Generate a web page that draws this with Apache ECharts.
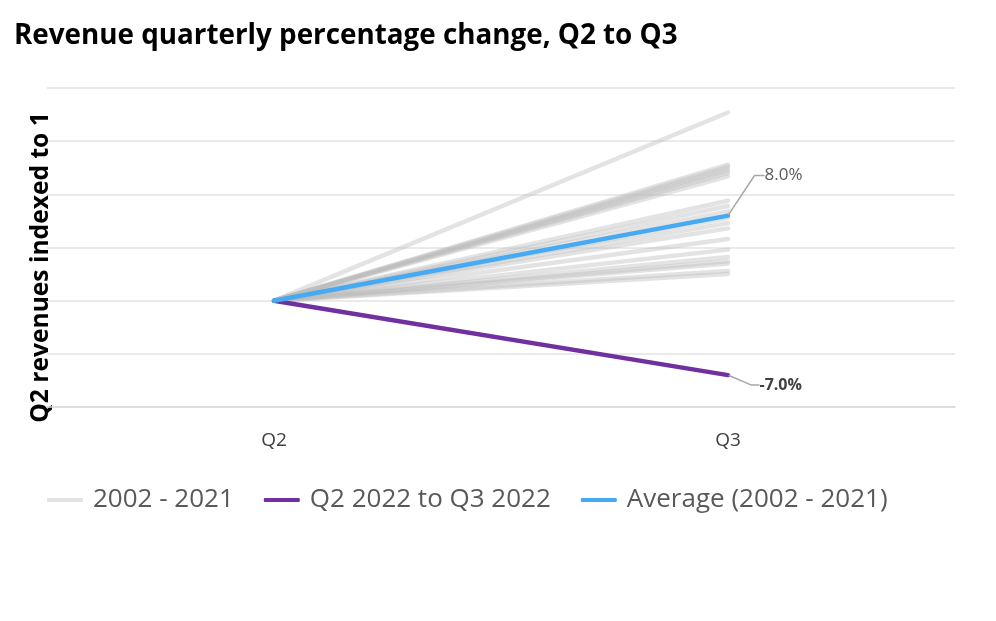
<!DOCTYPE html>
<html>
<head>
<meta charset="utf-8">
<script src="https://cdn.jsdelivr.net/npm/echarts@6/dist/echarts.min.js"></script>
<style>html,body{margin:0;padding:0;background:#fff}#c{width:996px;height:621px}</style>
</head>
<body>
<div id="c"></div>
<script>
const categories = ['Q2', 'Q3'];
// Q3 index values (Q2 = 1) for each year 2002 - 2021
const historicQ3 = [1.177, 1.128, 1.126, 1.124, 1.122, 1.120, 1.117, 1.094, 1.089, 1.084, 1.078,
                    1.073, 1.068, 1.058, 1.048, 1.041, 1.037, 1.035, 1.028, 1.025];
const q2Base = 1;
const averageQ3 = 1.08;
const currentQ3 = 0.93;
const yTicks = {min: 0.9, max: 1.2, interval: 0.05};

const pct = v => ((v - 1) * 100).toFixed(1) + '%';

const chart = echarts.init(document.getElementById('c'), null, {renderer: 'canvas'});
const series = [];
historicQ3.forEach(v => {
  series.push({
    name: '2002 - 2021', type: 'line', data: [q2Base, v], symbol: 'none',
    lineStyle: {color: '#bdbdbd', width: 4.5, opacity: 0.42, cap: 'round'},
    itemStyle: {color: '#e3e3e3'},
    emphasis: {disabled: true}, silent: true, z: 1
  });
});
series.push({
  name: 'Q2 2022 to Q3 2022', type: 'line', symbol: 'circle', symbolSize: 1, showSymbol: true, z: 3,
  data: [q2Base, {value: currentQ3, label: {show: true}}],
  lineStyle: {color: '#7030a0', width: 4.5, cap: 'round'},
  itemStyle: {color: '#7030a0'},
  label: {show: false, position: 'right', distance: 2, formatter: p => pct(p.value),
          fontFamily: 'Open Sans', fontSize: 16, fontWeight: 'bold', color: '#404040',
          padding: [0, 0, 0, 8]},
  labelLayout: {dx: 21, dy: 10},
  labelLine: {show: true, length2: 8, lineStyle: {color: '#a6a6a6', width: 1.5}},
  emphasis: {disabled: true}
});
series.push({
  name: 'Average (2002 - 2021)', type: 'line', symbol: 'circle', symbolSize: 1, showSymbol: true, z: 4,
  data: [q2Base, {value: averageQ3, label: {show: true}}],
  lineStyle: {color: '#45aaf2', width: 4.5, cap: 'round'},
  itemStyle: {color: '#45aaf2'},
  label: {show: false, position: 'right', distance: 2, formatter: p => pct(p.value),
          fontFamily: 'Open Sans', fontSize: 17, color: '#595959',
          padding: [0, 0, 0, 9]},
  labelLayout: {dx: 25, dy: -40},
  labelLine: {show: true, length2: 10, lineStyle: {color: '#a6a6a6', width: 1.5}},
  emphasis: {disabled: true}
});

chart.setOption({
  animation: false,
  backgroundColor: '#fff',
  title: {
    text: 'Revenue quarterly percentage change, Q2 to Q3',
    left: 9, top: 17,
    textStyle: {fontFamily: 'Open Sans', fontSize: 27.8, fontWeight: 'bold', color: '#000'}
  },
  legend: {
    bottom: 103, left: 42,
    itemWidth: 36, itemHeight: 4, itemGap: 30,
    icon: 'roundRect',
    textStyle: {fontFamily: 'Open Sans', fontSize: 26, color: '#595959', padding: [0, 0, 0, 5]},
    data: [
      {name: '2002 - 2021', itemStyle: {color: '#e3e3e3'}, lineStyle: {color: '#e3e3e3', opacity: 1}},
      {name: 'Q2 2022 to Q3 2022'},
      {name: 'Average (2002 - 2021)'}
    ]
  },
  grid: {left: 47, right: 41, top: 88, bottom: 214},
  xAxis: {
    type: 'category', data: categories,
    axisLine: {lineStyle: {color: '#d9d9d9', width: 1.5}},
    axisTick: {show: false},
    axisLabel: {fontFamily: 'Open Sans', fontSize: 19, color: '#404040', margin: 24}
  },
  yAxis: {
    type: 'value', min: yTicks.min, max: yTicks.max, interval: yTicks.interval,
    name: 'Q2 revenues indexed to 1', nameLocation: 'middle', nameRotate: 90, nameGap: -6,
    nameTextStyle: {fontFamily: 'Open Sans', fontSize: 24.6, fontWeight: 'bold', color: '#000',
                    padding: [0, 40, 0, 0]},
    axisLabel: {show: false}, axisLine: {show: false}, axisTick: {show: false},
    splitLine: {lineStyle: {color: '#e3e3e3', width: 1.5}}
  },
  series: series
});
</script>
</body>
</html>
